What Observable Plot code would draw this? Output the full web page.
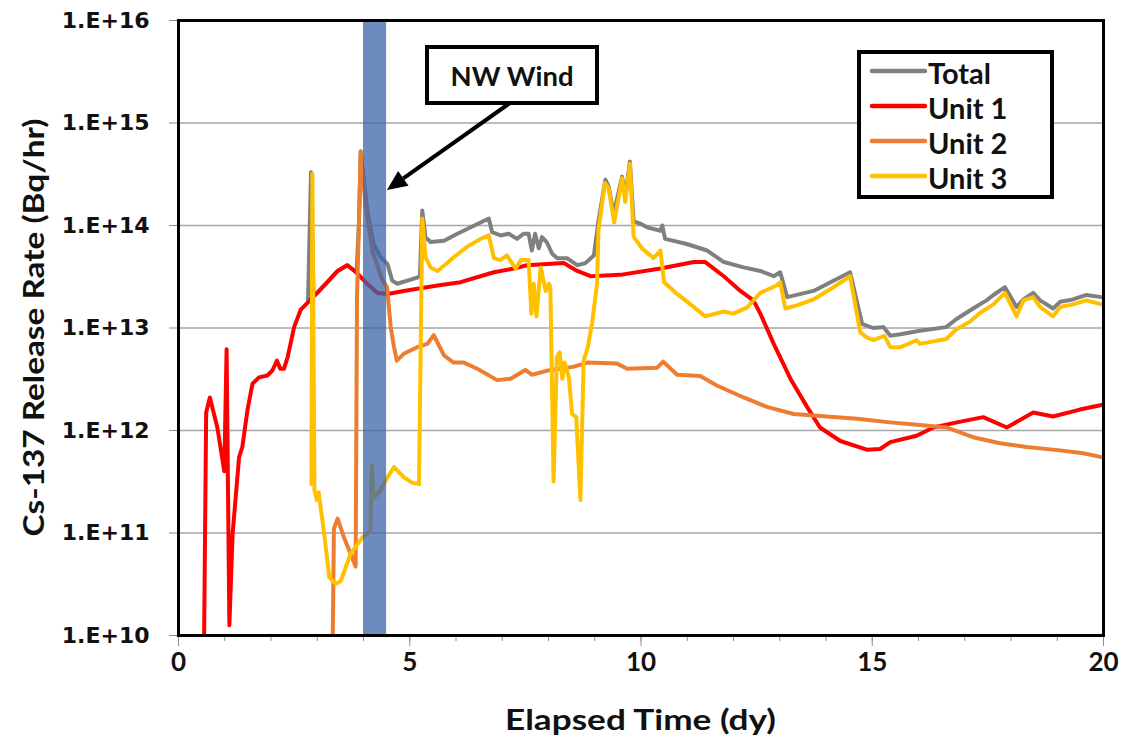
<!DOCTYPE html>
<html>
<head>
<meta charset="utf-8">
<script src="https://cdn.jsdelivr.net/npm/d3@7"></script>
<script src="https://cdn.jsdelivr.net/npm/@observablehq/plot@0.6"></script>
<style>
  html, body { margin: 0; padding: 0; background: #ffffff; }
  #chart { width: 1134px; height: 736px; }
</style>
</head>
<body>
<div id="chart"></div>
<script>
// ---------------- DATA ----------------
const seriesNames = ["Total", "Unit 1", "Unit 2", "Unit 3"];
const seriesColors = ["#808080", "#ff0000", "#ed7d31", "#ffc000"];

const totalDays = [2.80, 2.865, 2.92, 3.0, 3.44, 3.65, 3.85, 3.90, 3.94, 4.08, 4.22, 4.37, 4.52, 4.62, 4.73, 5.16, 5.22, 5.27, 5.34, 5.45, 5.74, 6.03, 6.32, 6.53, 6.71, 6.78, 6.96, 7.14, 7.32, 7.46, 7.57, 7.64, 7.71, 7.79, 7.86, 7.96, 8.08, 8.19, 8.4, 8.62, 8.8, 8.98, 9.08, 9.23, 9.3, 9.41, 9.59, 9.66, 9.76, 9.84, 9.99, 10.13, 10.42, 10.46, 10.52, 10.99, 11.43, 11.79, 12.22, 12.58, 12.87, 13.01, 13.16, 13.73, 14.52, 14.78, 15.02, 15.24, 15.39, 15.61, 16.03, 16.6, 16.83, 17.18, 17.47, 17.62, 17.87, 18.12, 18.27, 18.48, 18.63, 18.91, 19.06, 19.34, 19.63, 19.96];
const totalRate = [1.8e13, 3.3e14, 2.1e13, 2.2e13, 3.6e13, 4.1e13, 3.5e13, 1e14, 5.3e14, 1.4e14, 6.6e13, 4.9e13, 4.2e13, 2.9e13, 2.7e13, 3.1e13, 3.2e13, 1.4e14, 7.7e13, 6.9e13, 7.1e13, 8.3e13, 9.6e13, 1.07e14, 1.17e14, 8.6e13, 8e13, 8.3e13, 7.4e13, 8.3e13, 8.3e13, 5.7e13, 8.3e13, 6e13, 7.7e13, 6.9e13, 5.3e13, 4.8e13, 4.8e13, 4.1e13, 4.3e13, 5.1e13, 1.1e14, 2.8e14, 2.4e14, 1.3e14, 3e14, 1.9e14, 4.2e14, 1.1e14, 1.04e14, 9.6e13, 8.9e13, 1e14, 7.4e13, 6.6e13, 5.7e13, 4.4e13, 3.9e13, 3.6e13, 3.2e13, 3.5e13, 2e13, 2.3e13, 3.5e13, 1.1e13, 1e13, 1.02e13, 8.4e12, 8.7e12, 9.4e12, 1.02e13, 1.23e13, 1.55e13, 1.86e13, 2.1e13, 2.5e13, 1.6e13, 1.9e13, 2.2e13, 1.86e13, 1.55e13, 1.8e13, 1.9e13, 2.1e13, 2e13];

const unit1Days = [0.548, 0.598, 0.678, 0.84, 0.99, 1.04, 1.10, 1.17, 1.31, 1.38, 1.49, 1.60, 1.74, 1.92, 2.03, 2.13, 2.20, 2.28, 2.36, 2.50, 2.64, 2.86, 3.0, 3.22, 3.44, 3.65, 3.87, 4.08, 4.30, 4.52, 4.87, 5.6, 6.1, 6.82, 7.25, 7.53, 8.33, 8.62, 8.91, 9.55, 10.42, 11.14, 11.39, 11.79, 12.15, 12.43, 12.58, 12.87, 13.23, 13.59, 13.87, 14.31, 14.88, 15.17, 15.39, 15.96, 16.32, 16.83, 17.4, 17.91, 18.48, 18.91, 19.49, 19.96];
const unit1Rate = [5e9, 1.5e12, 2.1e12, 1.07e12, 4e11, 6.2e12, 1.26e10, 9.8e10, 5.5e11, 6.9e11, 1.57e12, 2.86e12, 3.3e12, 3.44e12, 3.85e12, 4.8e12, 4e12, 4e12, 5.2e12, 1.02e13, 1.5e13, 1.9e13, 2.2e13, 2.8e13, 3.6e13, 4.1e13, 3.4e13, 2.7e13, 2.2e13, 2.15e13, 2.3e13, 2.6e13, 2.8e13, 3.5e13, 3.8e13, 4.1e13, 4.3e13, 3.6e13, 3.2e13, 3.3e13, 3.8e13, 4.4e13, 4.4e13, 3.2e13, 2.3e13, 1.86e13, 1.38e13, 7e12, 3.2e12, 1.7e12, 1.07e12, 7.9e11, 6.5e11, 6.6e11, 7.7e11, 8.9e11, 1.07e12, 1.2e12, 1.35e12, 1.07e12, 1.5e12, 1.37e12, 1.6e12, 1.77e12];

const unit2Days = [3.33, 3.36, 3.44, 3.58, 3.72, 3.83, 3.86, 3.94, 4.05, 4.2, 4.4, 4.51, 4.59, 4.66, 4.72, 4.87, 5.16, 5.38, 5.52, 5.74, 5.95, 6.17, 6.46, 6.89, 7.18, 7.5, 7.64, 8.04, 8.26, 8.55, 8.84, 9.48, 9.7, 10.35, 10.48, 10.78, 11.28, 11.64, 12.22, 12.72, 13.3, 14.02, 14.67, 15.39, 16.03, 16.6, 17.18, 17.76, 18.34, 19.06, 19.56, 19.96];
const unit2Rate = [5e9, 1.1e11, 1.38e11, 9e10, 6.3e10, 4.7e10, 2e13, 5.2e14, 1.5e14, 5.5e13, 3e13, 2.5e13, 1e13, 6.5e12, 4.8e12, 5.6e12, 6.5e12, 7e12, 8.5e12, 5.4e12, 4.6e12, 4.6e12, 4e12, 3.1e12, 3.2e12, 3.9e12, 3.5e12, 3.9e12, 4e12, 4.2e12, 4.6e12, 4.5e12, 4e12, 4.1e12, 4.7e12, 3.5e12, 3.4e12, 2.75e12, 2.1e12, 1.7e12, 1.45e12, 1.37e12, 1.3e12, 1.2e12, 1.13e12, 1.07e12, 8.6e11, 7.5e11, 6.9e11, 6.4e11, 6.0e11, 5.5e11];

const unit3Days = [2.875, 2.895, 2.94, 2.99, 3.03, 3.15, 3.26, 3.40, 3.51, 3.72, 3.98, 4.15, 4.18, 4.22, 4.34, 4.52, 4.66, 4.87, 5.05, 5.2, 5.27, 5.34, 5.45, 5.6, 5.81, 5.95, 6.24, 6.53, 6.71, 6.82, 6.96, 7.1, 7.29, 7.4, 7.57, 7.63, 7.68, 7.74, 7.83, 7.94, 8.01, 8.04, 8.11, 8.18, 8.24, 8.3, 8.35, 8.44, 8.51, 8.6, 8.69, 8.76, 8.85, 8.94, 9.05, 9.08, 9.22, 9.3, 9.42, 9.59, 9.66, 9.76, 9.84, 10.02, 10.27, 10.42, 10.5, 10.78, 11.07, 11.39, 11.79, 12.0, 12.29, 12.58, 12.93, 13.01, 13.12, 13.37, 13.73, 14.16, 14.52, 14.74, 14.88, 15.03, 15.26, 15.39, 15.61, 15.96, 16.03, 16.6, 16.83, 17.11, 17.33, 17.62, 17.87, 18.12, 18.27, 18.48, 18.63, 18.91, 19.06, 19.34, 19.63, 19.96];
const unit3Rate = [3e11, 3.2e14, 2.6e11, 2.1e11, 2.5e11, 9.8e10, 3.7e10, 3.2e10, 3.4e10, 6.3e10, 9.1e10, 1.05e11, 4.6e11, 2.2e11, 2.5e11, 3.5e11, 4.4e11, 3.5e11, 3.1e11, 3e11, 1.17e14, 4.9e13, 3.9e13, 3.6e13, 4.3e13, 4.9e13, 6.2e13, 7.4e13, 8e13, 4.8e13, 4.6e13, 5.1e13, 3.8e13, 4.6e13, 4.6e13, 1.38e13, 2.7e13, 1.3e13, 3.9e13, 2.3e13, 2.7e13, 2.5e13, 3.2e11, 5.2e12, 5.8e12, 3.2e12, 4.6e12, 3.3e12, 1.45e12, 1.35e12, 2.1e11, 4.8e12, 6.5e12, 1.1e13, 2.7e13, 9e13, 2.6e14, 2.3e14, 1.07e14, 2.9e14, 1.7e14, 4e14, 7.8e13, 6e13, 4.8e13, 5.7e13, 2.8e13, 2.15e13, 1.7e13, 1.3e13, 1.45e13, 1.38e13, 1.58e13, 2.2e13, 2.6e13, 2.8e13, 1.55e13, 1.66e13, 1.9e13, 2.5e13, 3.2e13, 9.1e12, 8.1e12, 7.6e12, 8.4e12, 6.5e12, 6.5e12, 7.6e12, 7e12, 7.8e12, 9.8e12, 1.15e13, 1.4e13, 1.7e13, 2.2e13, 1.3e13, 1.86e13, 2e13, 1.6e13, 1.3e13, 1.6e13, 1.7e13, 1.86e13, 1.7e13];

const yTicks = [1e10, 1e11, 1e12, 1e13, 1e14, 1e15, 1e16];
const xTicks = [0, 5, 10, 15, 20];
const xMinorTicks = d3.range(0, 21);
const windBand = [4.0, 4.5];
const windLabel = "NW Wind";
const xTitle = "Elapsed Time (dy)";
const yTitle = "Cs-137 Release Rate (Bq/hr)";

// ---------------- BUILD ----------------
const seriesDays = [totalDays, unit1Days, unit2Days, unit3Days];
const seriesRates = [totalRate, unit1Rate, unit2Rate, unit3Rate];
const seriesRows = seriesNames.map((name, i) =>
  seriesDays[i].map((d, j) => ({series: name, day: d, rate: seriesRates[i][j]})));

const textColor = "#111111";
const tickColor = "#8c8c8c";

const plot = Plot.plot({
  width: 1134,
  height: 736,
  marginLeft: 178,
  marginRight: 31,
  marginTop: 20,
  marginBottom: 101,
  x: {domain: [0, 20]},
  y: {type: "log", domain: [1e10, 1e16]},
  style: {background: "#ffffff", fontFamily: "Lato, sans-serif", overflow: "visible"},
  marks: [
    Plot.gridY(yTicks, {stroke: "#a6a6a6", strokeOpacity: 1, strokeWidth: 1.4}),
    ...seriesRows.map((rows, i) => Plot.line(rows, {
      x: "day", y: "rate", stroke: seriesColors[i], strokeWidth: 4,
      strokeLinejoin: "round", strokeLinecap: "round", clip: true
    })),
    Plot.rect([{x1: windBand[0], x2: windBand[1]}], {
      x1: "x1", x2: "x2", fill: "#3c64a8", fillOpacity: 0.75
    }),
    Plot.axisY(yTicks, {
      tickFormat: d => "1.E+" + Math.round(Math.log10(d)),
      tickSize: 9, tickPadding: 20, stroke: tickColor,
      fontSize: 22, fontWeight: "bold", fontFamily: "DejaVu Sans, sans-serif",
      fill: textColor, label: null
    }),
    Plot.axisX(xMinorTicks, {tickSize: 6, tickFormat: () => "", stroke: tickColor, label: null}),
    Plot.axisX(xTicks, {
      tickSize: 11, tickPadding: 6, stroke: tickColor,
      fontSize: 26, fontWeight: "bold", fill: textColor, label: null
    }),
    Plot.frame({stroke: "#000000", strokeWidth: 3})
  ]
});

document.getElementById("chart").appendChild(plot);
const svg = d3.select(plot);

// ---------------- AXIS TITLES ----------------
const yTitleLen = 418, xTitleLen = 271;
const yMid = (20 + 635) / 2, xMid = (178 + 1103) / 2;
svg.append("text")
  .attr("transform", `translate(33,${yMid + yTitleLen / 2}) rotate(-90)`)
  .attr("text-anchor", "start").attr("dominant-baseline", "central")
  .attr("font-family", "Lato, sans-serif").attr("font-weight", "bold").attr("font-size", 28)
  .attr("fill", textColor)
  .attr("textLength", yTitleLen).attr("lengthAdjust", "spacingAndGlyphs")
  .text(yTitle);
svg.append("text")
  .attr("x", xMid - xTitleLen / 2).attr("y", 719)
  .attr("text-anchor", "start").attr("dominant-baseline", "central")
  .attr("font-family", "Lato, sans-serif").attr("font-weight", "bold").attr("font-size", 28)
  .attr("fill", textColor)
  .attr("textLength", xTitleLen).attr("lengthAdjust", "spacingAndGlyphs")
  .text(xTitle);

// ---------------- ANNOTATION ----------------
const ann = svg.append("g");
const boxX = 427, boxY = 47, boxW = 170, boxH = 56;
ann.append("rect").attr("x", boxX).attr("y", boxY).attr("width", boxW).attr("height", boxH)
  .attr("fill", "#ffffff").attr("stroke", "#000000").attr("stroke-width", 4);
ann.append("text").attr("x", boxX + (boxW - 123) / 2).attr("y", boxY + boxH / 2 + 1)
  .attr("text-anchor", "start").attr("dominant-baseline", "central")
  .attr("font-family", "Lato, sans-serif").attr("font-weight", "bold").attr("font-size", 26)
  .attr("fill", textColor)
  .attr("textLength", 123).attr("lengthAdjust", "spacingAndGlyphs")
  .text(windLabel);

const ax0 = 510, ay0 = boxY + boxH, ax1 = 387, ay1 = 190;
const ang = Math.atan2(ay1 - ay0, ax1 - ax0);
const hl = 20, hw = 9;
const bx = ax1 - hl * Math.cos(ang), by = ay1 - hl * Math.sin(ang);
const px = -Math.sin(ang) * hw, py = Math.cos(ang) * hw;
ann.append("line").attr("x1", ax0).attr("y1", ay0).attr("x2", bx).attr("y2", by)
  .attr("stroke", "#000000").attr("stroke-width", 4);
ann.append("polygon")
  .attr("points", [[ax1, ay1], [bx + px, by + py], [bx - px, by - py]].map(p => p.join(",")).join(" "))
  .attr("fill", "#000000");

// ---------------- LEGEND ----------------
const leg = svg.append("g");
const lgX = 859, lgY = 52, lgW = 193, lgH = 145;
leg.append("rect").attr("x", lgX).attr("y", lgY).attr("width", lgW).attr("height", lgH)
  .attr("fill", "#ffffff").attr("stroke", "#000000").attr("stroke-width", 4);
seriesNames.forEach((name, i) => {
  const yy = 71 + i * 35;
  leg.append("line").attr("x1", 872).attr("x2", 925).attr("y1", yy).attr("y2", yy)
    .attr("stroke", seriesColors[i]).attr("stroke-width", 4.5).attr("stroke-linecap", "round");
  leg.append("text").attr("x", 928).attr("y", yy + 1)
    .attr("text-anchor", "start").attr("dominant-baseline", "central")
    .attr("font-family", "Lato, sans-serif").attr("font-weight", "bold").attr("font-size", 29)
    .attr("fill", textColor).text(name);
});
</script>
</body>
</html>
